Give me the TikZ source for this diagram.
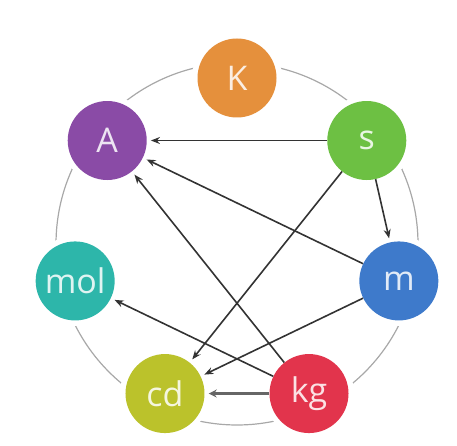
\documentclass[tikz,border=0pt]{standalone}
\usepackage{fontspec}
\setmainfont{Open Sans}
\usetikzlibrary{arrows.meta,backgrounds}
\definecolor{cK}{HTML}{E5903C}
\definecolor{cA}{HTML}{8A4BA6}
\definecolor{cs}{HTML}{6DC043}
\definecolor{cm}{HTML}{3E7ACB}
\definecolor{cmol}{HTML}{2DB6AA}
\definecolor{ccd}{HTML}{BBC22B}
\definecolor{ckg}{HTML}{E2344C}
\definecolor{arrowcol}{HTML}{333333}
\definecolor{ringcol}{HTML}{A8A8A8}
\tikzset{
  unit/.style={circle,fill=#1,minimum size=79pt,inner sep=0pt,text=white!85!#1,font=\fontsize{34}{34}\selectfont},
  link/.style={draw=arrowcol,line width=1.6pt,-{Stealth[length=9pt,width=7pt]},shorten >=4pt},
  thicklink/.style={draw=arrowcol!75,line width=2.8pt,-{Stealth[length=8pt,width=8pt]},shorten >=4pt},
}
\begin{document}
\begin{tikzpicture}[x=1pt,y=1pt]
\useasboundingbox (0,0) rectangle (457,446);
\begin{scope}[shift={(237,202)}]
\coordinate (O) at (0,0);
\node[unit=cK]   (K)   at (90:166)      {K};
\node[unit=cs]   (s)   at (38.57:166)   {s};
\node[unit=cm]   (m)   at (-12.86:166)  {m};
\node[unit=ckg]  (kg)  at (-64.29:166)  {kg};
\node[unit=ccd]  (cd)  at (244.29:166)  {cd};
\node[unit=cmol] (mol) at (192.86:166)  {mol};
\node[unit=cA]   (A)   at (141.43:166)  {A};
\end{scope}
\begin{scope}[on background layer]
\draw[ringcol,line width=1.2pt] (O) circle (181pt);
\foreach \n in {K,s,m,kg,cd,mol,A} \fill[white] (\n) circle (45pt);
\end{scope}
\draw[link] (s) -- (A);
\draw[link] (m) -- (A);
\draw[link] (kg) -- (A);
\draw[link] (s) -- (m);
\draw[link] (s) -- (cd);
\draw[link] (m) -- (cd);
\draw[link] (kg) -- (mol);
\draw[thicklink] (kg) -- (cd);
\end{tikzpicture}
\end{document}
